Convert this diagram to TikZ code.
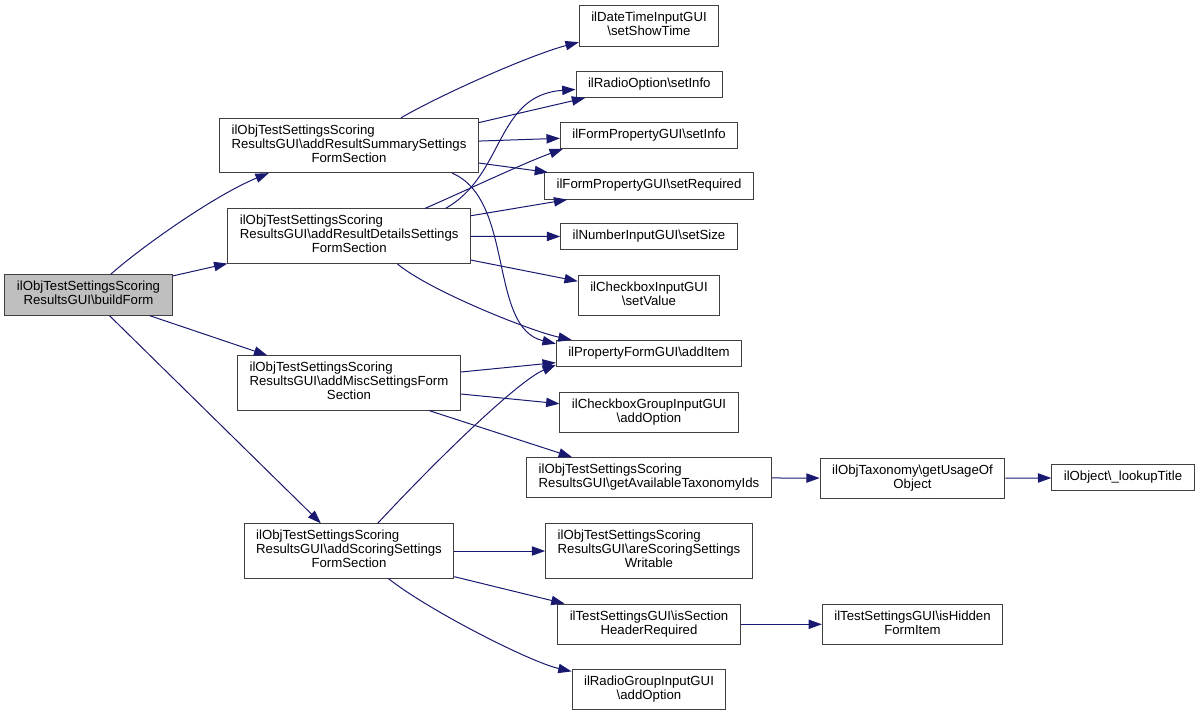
\documentclass[tikz,border=0pt]{standalone}
\usepackage{fontspec}
\setmainfont{Liberation Sans}
\usetikzlibrary{arrows.meta}
\definecolor{Midnight}{HTML}{191970}
\definecolor{Grey25}{HTML}{404040}
\definecolor{Grey75}{HTML}{BFBFBF}
\newcommand{\bsl}{\textbackslash}
\newcommand{\fname}[2]{\begin{tabular}{@{}l@{}}#1\\\multicolumn{1}{@{}c@{}}{#2}\end{tabular}}
\newcommand{\fnameone}[1]{\begin{tabular}{@{}c@{}}#1\end{tabular}}

\begin{document}
\begin{tikzpicture}[
    x=0.75pt, y=-0.75pt,
    every node/.style={font=\fontsize{9.9}{10.5}\selectfont},
    func/.style={rectangle, draw=Grey25, fill=white, line width=0.75pt, inner xsep=9pt, inner ysep=4.6pt},
    root/.style={func, fill=Grey75},
    call/.style={-{Triangle[length=10pt, width=7pt]}, draw=Midnight, line width=0.75pt}
]
\useasboundingbox (0,0) rectangle (1196,716);

% caller and its direct callees
\node[root] (buildForm) at (88.5,295) {\fname{ilObjTestSettingsScoring}{ResultsGUI\bsl buildForm}};
\node[func] (summarySec) at (349,145.5) {\fname{ilObjTestSettingsScoring\\ResultsGUI\bsl addResultSummarySettings}{FormSection}};
\node[func] (detailsSec) at (349.2,236) {\fname{ilObjTestSettingsScoring\\ResultsGUI\bsl addResultDetailsSettings}{FormSection}};
\node[func] (miscSec) at (349,383) {\fname{ilObjTestSettingsScoring\\ResultsGUI\bsl addMiscSettingsForm}{Section}};
\node[func] (scoringSec) at (349,551) {\fname{ilObjTestSettingsScoring\\ResultsGUI\bsl addScoringSettings}{FormSection}};

% second column
\node[func] (showTime) at (649,26) {\fname{ilDateTimeInputGUI}{\bsl setShowTime}};
\node[func] (radioInfo) at (649.3,84.3) {\fnameone{ilRadioOption\bsl setInfo}};
\node[func] (propInfo) at (649,135.3) {\fnameone{ilFormPropertyGUI\bsl setInfo}};
\node[func] (propRequired) at (649,186) {\fnameone{ilFormPropertyGUI\bsl setRequired}};
\node[func] (numSize) at (649,236.7) {\fnameone{ilNumberInputGUI\bsl setSize}};
\node[func] (cbValue) at (649,295.3) {\fname{ilCheckboxInputGUI}{\bsl setValue}};
\node[func] (addItem) at (649,353.5) {\fnameone{ilPropertyFormGUI\bsl addItem}};
\node[func] (cbgOption) at (649,412.5) {\fname{ilCheckboxGroupInputGUI}{\bsl addOption}};
\node[func] (taxIds) at (649,477.7) {\fname{ilObjTestSettingsScoring}{ResultsGUI\bsl getAvailableTaxonomyIds}};
\node[func] (writable) at (649,551) {\fname{ilObjTestSettingsScoring\\ResultsGUI\bsl areScoringSettings}{Writable}};
\node[func] (sectionHdr) at (649,624.3) {\fname{ilTestSettingsGUI\bsl isSection}{HeaderRequired}};
\node[func] (radioGroupOpt) at (649,689.3) {\fname{ilRadioGroupInputGUI}{\bsl addOption}};

% deeper calls
\node[func] (usageOf) at (912.5,478.3) {\fname{ilObjTaxonomy\bsl getUsageOf}{Object}};
\node[func] (lookupTitle) at (1123,477.8) {\fnameone{ilObject\bsl\_lookupTitle}};
\node[func] (hiddenItem) at (912.5,624.3) {\fname{ilTestSettingsGUI\bsl isHidden}{FormItem}};

% calls from buildForm
\draw[call] (buildForm.43) .. controls (140,248) and (215,195) .. (summarySec.199);
\draw[call] (buildForm) -- (detailsSec);
\draw[call] (buildForm) -- (miscSec);
\draw[call] (buildForm) -- (scoringSec);

% calls from addResultSummarySettingsFormSection
\draw[call] (summarySec.28) .. controls (440,95) and (530,55) .. (showTime.193);
\draw[call] (summarySec.10) -- (radioInfo.192);
\draw[call] (summarySec) -- (propInfo);
\draw[call] (summarySec) -- (propRequired);
\draw[call] (summarySec.-15.6) .. controls (515,200) and (488,328) .. (addItem.174);

% calls from addResultDetailsSettingsFormSection
\draw[call] (detailsSec.16.5) .. controls (505,175) and (495,95) .. (radioInfo.184);
\draw[call] (detailsSec.20.5) .. controls (467,190) and (525,162.6) .. (propInfo.189);
\draw[call] (detailsSec) -- (propRequired);
\draw[call] (detailsSec) -- (numSize);
\draw[call] (detailsSec) -- (cbValue);
\draw[call] (detailsSec.-30.8) .. controls (428,290) and (530,331) .. (addItem.170.4);

% calls from addMiscSettingsFormSection
\draw[call] (miscSec) -- (addItem);
\draw[call] (miscSec) -- (cbgOption);
\draw[call] (miscSec.-19.7) -- (taxIds.165.2);

% calls from addScoringSettingsFormSection
\draw[call] (scoringSec.44.7) .. controls (446,450) and (520,380) .. (addItem.187.5);
\draw[call] (scoringSec) -- (writable);
\draw[call] (scoringSec) -- (sectionHdr);
\draw[call] (scoringSec.-35) .. controls (428,610) and (530,662) .. (radioGroupOpt.167.5);

% deeper
\draw[call] (taxIds) -- (usageOf);
\draw[call] (usageOf) -- (lookupTitle);
\draw[call] (sectionHdr) -- (hiddenItem);

\end{tikzpicture}
\end{document}
